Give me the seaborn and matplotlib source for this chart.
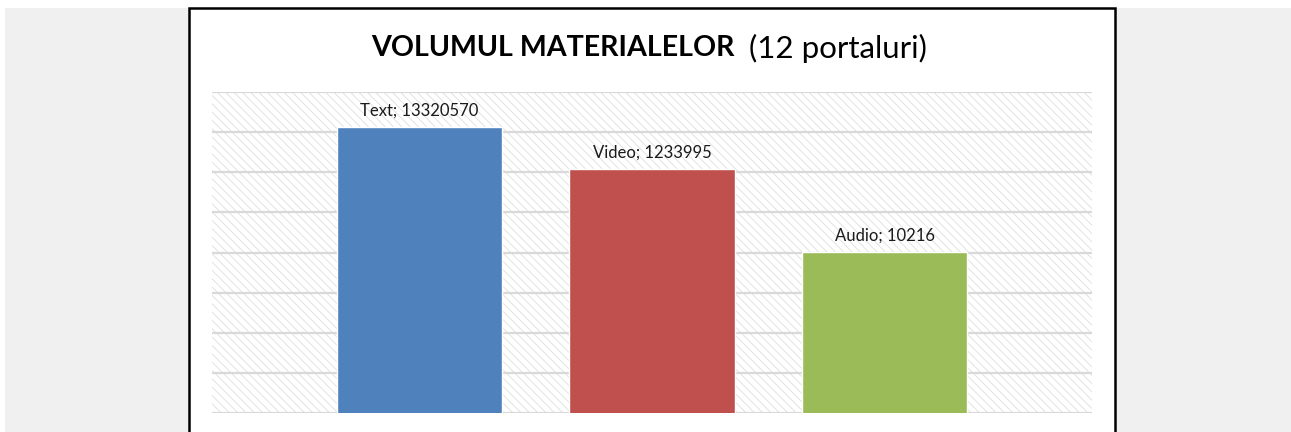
import matplotlib
matplotlib.use('Agg')
import matplotlib.pyplot as plt
from matplotlib.patches import Rectangle
import seaborn as sns
import pandas as pd

categories = ['Text', 'Video', 'Audio']
values = [13320570, 1233995, 10216]
colors = ['#4F81BD', '#C0504D', '#9BBB59']

df = pd.DataFrame({'tip': categories, 'volum': values})

sns.set_style('white')
plt.rcParams['font.family'] = ['Lato', 'DejaVu Sans']
plt.rcParams['hatch.linewidth'] = 0.6

W, H = 1291, 432
fig = plt.figure(figsize=(W / 100, H / 100), dpi=100, facecolor='white')

# grey page background and white chart frame (figure pixel coords)
fig.patches.append(Rectangle((5 / W, 0), (W - 5) / W, (H - 8) / H, transform=fig.transFigure,
                             facecolor='#f0f0f0', edgecolor='none', zorder=-10))
fig.patches.append(Rectangle((189 / W, -0.1), (1115 - 189) / W, (H - 8) / H + 0.1, transform=fig.transFigure,
                             facecolor='white', edgecolor='black', linewidth=1.8, zorder=-9))

ax = fig.add_axes([212 / W, (H - 413) / H, 880 / W, 321 / H])
ax.set_facecolor('none')

# hatched plot area
ax.add_patch(Rectangle((0, 0), 1, 1, transform=ax.transAxes, facecolor='white',
                       edgecolor='#dedede', hatch='\\\\\\\\', linewidth=0, zorder=0))

sns.barplot(data=df, x='tip', y='volum', hue='tip', palette=colors, order=categories,
            width=0.71, saturation=1, legend=False, ax=ax, zorder=3)
ax.set_yscale('log')
ax.set_ylim(1, 1e8)
ax.set_xlim(-0.892, 2.892)
ax.set_yticks([10 ** k for k in range(9)])
ax.yaxis.set_minor_locator(matplotlib.ticker.NullLocator())
ax.set_yticklabels([])
ax.set_xticks([])
ax.set_xlabel('')
ax.set_ylabel('')
ax.grid(axis='y', color='#d9d9d9', linewidth=1.6, zorder=1)
ax.set_axisbelow(True)
for s in ax.spines.values():
    s.set_visible(False)

for i, (c, v) in enumerate(zip(categories, values)):
    ax.annotate(f'{c}; {v}', (i, v), xytext=(0, 6), textcoords='offset points',
                ha='center', va='bottom', fontsize=12, color='#1a1a1a')

fig.text(735 / W, (H - 48) / H, 'VOLUMUL MATERIALELOR', ha='right', va='center',
         fontsize=20.6, fontweight='bold', color='black')
fig.text(749 / W, (H - 48) / H, '(12 portaluri)', ha='left', va='center',
         fontsize=22.5, color='black')

fig.savefig('out.png', dpi=100)
